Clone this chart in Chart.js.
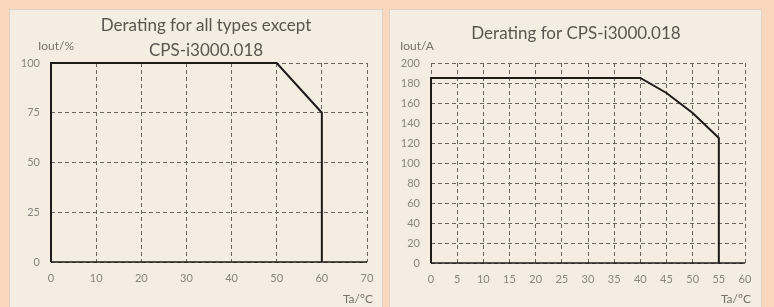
<!DOCTYPE html>
<html>
<head>
<meta charset="utf-8">
<script src="https://cdn.jsdelivr.net/npm/chart.js@4.4.1/dist/chart.umd.min.js"></script>
<style>
  html, body { margin: 0; padding: 0; }
  body { width: 774px; height: 307px; background: #fad6bd; position: relative; overflow: hidden; }
  .panel { position: absolute; top: 9px; background: #f5ede2; border: 1px solid #ddd2c6; box-sizing: border-box; }
  #leftPanel { left: 9px; width: 374px; height: 300px; }
  #rightPanel { left: 389px; width: 373px; height: 300px; }
  canvas { position: absolute; left: 0; top: 0; }
</style>
</head>
<body>
<div class="panel" id="leftPanel"><canvas id="derateAll" width="374" height="298"></canvas></div>
<div class="panel" id="rightPanel"><canvas id="derate018" width="373" height="298"></canvas></div>
<script>
// left chart: all types except CPS-i3000.018 (Iout in %)
const leftTemp = [0, 0, 50, 60, 60];
const leftIout = [0, 100, 100, 75, 0];
const leftXTicks = [0, 10, 20, 30, 40, 50, 60, 70];
const leftYTicks = [0, 25, 50, 75, 100];

// right chart: CPS-i3000.018 (Iout in A)
const rightTemp = [0, 0, 40, 45, 50, 55, 55];
const rightIout = [0, 185, 185, 170, 150, 125, 0];
const rightXTicks = [0, 5, 10, 15, 20, 25, 30, 35, 40, 45, 50, 55, 60];
const rightYTicks = [0, 20, 40, 60, 80, 100, 120, 140, 160, 180, 200];

const FONT = "Lato, 'Open Sans', sans-serif";

function textPlugin(titleLines, titleX, titleY, yLabel, yLabelX) {
  return {
    id: 'labels',
    afterDraw(chart) {
      const c = chart.ctx;
      const a = chart.chartArea;
      c.save();
      // solid x axis line (grid lines are dashed)
      c.strokeStyle = '#1e1a18';
      c.lineWidth = 1.5;
      c.beginPath();
      c.moveTo(a.left, a.bottom);
      c.lineTo(a.right, a.bottom);
      c.stroke();

      c.fillStyle = '#5b5550';
      c.font = '17px ' + FONT;
      c.textAlign = 'center';
      c.textBaseline = 'middle';
      titleLines.forEach((t, i) => c.fillText(t, titleX, titleY + i * 25));
      c.font = '12px ' + FONT;
      c.fillStyle = '#77716b';
      c.textAlign = 'left';
      c.fillText(yLabel, yLabelX, 36);
      c.textAlign = 'right';
      c.fillText('Ta/°C', a.right + 6, 289);
      c.restore();
    }
  };
}

function makeChart(id, temps, iouts, xTicks, yTicks, padRight, xHeight, plugin) {
  const pts = temps.map((t, i) => ({ x: t, y: iouts[i] }));
  const grid = { color: '#6b6560', lineWidth: 1, drawTicks: false };
  return new Chart(document.getElementById(id), {
    type: 'line',
    data: {
      datasets: [{
        data: pts,
        borderColor: '#1e1a18',
        borderWidth: 2,
        pointRadius: 0,
        tension: 0,
        clip: false
      }]
    },
    options: {
      responsive: false,
      animation: false,
      layout: { padding: { left: 0, top: 53, right: padRight, bottom: 0 } },
      plugins: { legend: { display: false }, tooltip: { enabled: false } },
      scales: {
        x: {
          type: 'linear',
          min: xTicks[0],
          max: xTicks[xTicks.length - 1],
          afterBuildTicks: (s) => { s.ticks = xTicks.map(v => ({ value: v })); },
          afterFit: (s) => { s.height = xHeight; },
          grid: grid,
          border: { display: false, dash: [4, 3] },
          ticks: { color: '#8a847e', font: { family: FONT, size: 11 }, padding: 10, maxRotation: 0 }
        },
        y: {
          min: yTicks[0],
          max: yTicks[yTicks.length - 1],
          afterBuildTicks: (s) => { s.ticks = yTicks.map(v => ({ value: v })); },
          afterFit: (s) => { s.width = 41; },
          grid: grid,
          border: { display: false, dash: [4, 3] },
          ticks: { color: '#8a847e', font: { family: FONT, size: 11 }, padding: 11 }
        }
      }
    },
    plugins: [plugin]
  });
}

const c1 = makeChart('derateAll', leftTemp, leftIout, leftXTicks, leftYTicks, 17, 46,
  textPlugin(['Derating for all types except', 'CPS-i3000.018'], 196, 16, 'Iout/%', 28));
const c2 = makeChart('derate018', rightTemp, rightIout, rightXTicks, rightYTicks, 18, 45,
  textPlugin(['Derating for CPS-i3000.018'], 186, 24, 'Iout/A', 10));
</script>
</body>
</html>
